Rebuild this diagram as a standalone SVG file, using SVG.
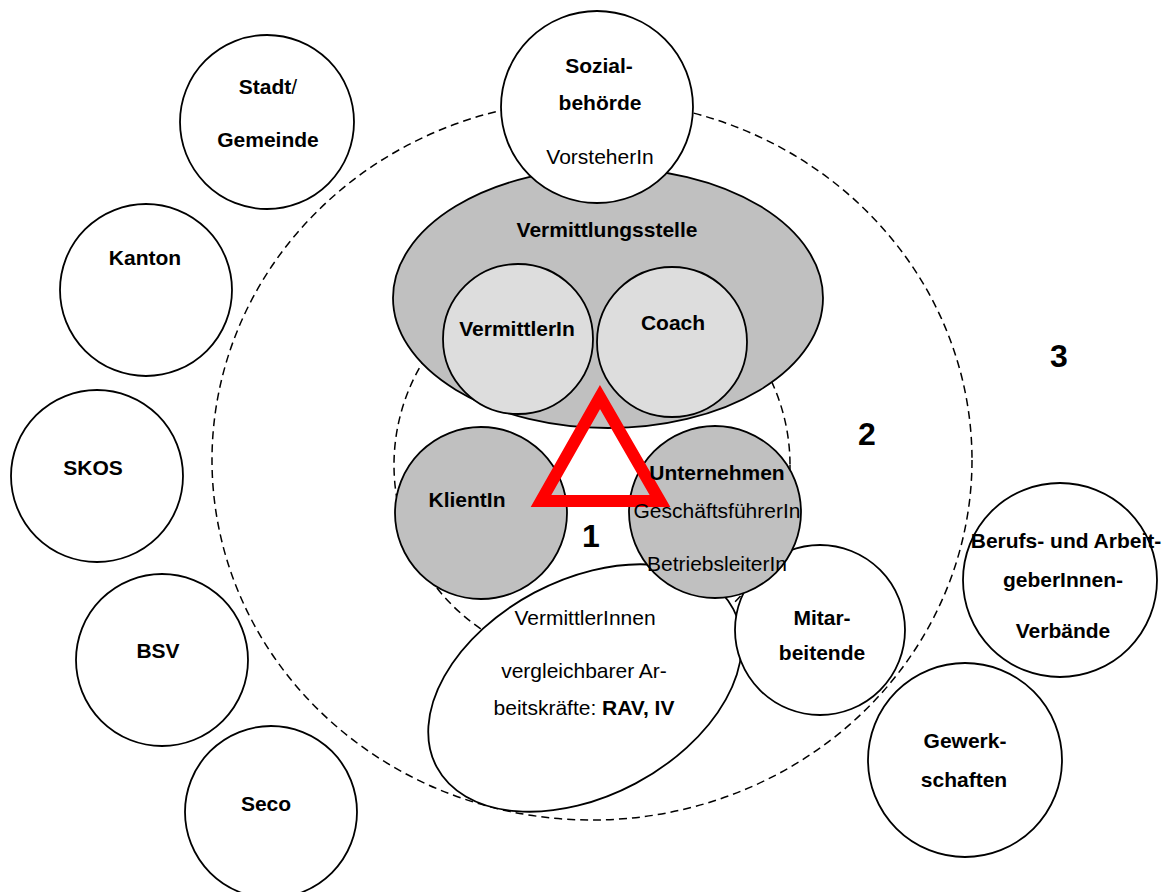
<svg xmlns="http://www.w3.org/2000/svg" width="1166" height="892" viewBox="0 0 1166 892">
<style>
  text { font-family: "Liberation Sans", Arial, sans-serif; font-size: 21px; fill: #000; text-anchor: middle; }
  .b { font-weight: bold; }
  .n { font-weight: normal; }
  .num { font-weight: bold; font-size: 32px; }
  .node { stroke: #000; stroke-width: 1.8; fill: #fff; }
  .grey { fill: #c0c0c0; }
  .light { fill: #dddddd; }
  .zone { fill: none; stroke: #000; stroke-width: 1.5; stroke-dasharray: 8 5; }
</style>
<rect width="1166" height="892" fill="#fff"/>
<g id="zones">
  <ellipse class="zone" cx="592" cy="460" rx="380" ry="360"/>
  <circle class="zone" cx="592" cy="465" r="198"/>
</g>
<g id="connectors"></g>
<g id="stadt"><circle class="node" cx="267" cy="122" r="87"/><text x="268" y="94"><tspan class="b">Stadt</tspan><tspan class="n">/</tspan></text><text class="b" x="268" y="147">Gemeinde</text></g>
<g id="kanton"><circle class="node" cx="146" cy="290" r="86"/><text class="b" x="145" y="265">Kanton</text></g>
<g id="skos"><circle class="node" cx="97" cy="476" r="86"/><text class="b" x="93" y="475">SKOS</text></g>
<g id="bsv"><circle class="node" cx="162" cy="660" r="86"/><text class="b" x="158" y="658">BSV</text></g>
<g id="seco"><circle class="node" cx="271" cy="812" r="86"/><text class="b" x="266" y="811">Seco</text></g>
<g id="verbaende"><circle class="node" cx="1060" cy="580" r="97"/><text class="b" x="1066" y="548">Berufs- und Arbeit-</text><text class="b" x="1063" y="587">geberInnen-</text><text class="b" x="1063" y="638">Verbände</text></g>
<g id="gewerkschaften"><circle class="node" cx="965" cy="760" r="97"/><text class="b" x="965" y="748">Gewerk-</text><text class="b" x="964" y="787">schaften</text></g>
<g id="vermittlungsstelle"><ellipse class="node grey" cx="608" cy="298" rx="215" ry="130"/><text class="b" x="607" y="237">Vermittlungsstelle</text></g>
<g id="sozialbehoerde"><circle class="node" cx="597" cy="107" r="96"/><text class="b" x="599" y="73">Sozial-</text><text class="b" x="600" y="110">behörde</text><text x="600" y="164">VorsteherIn</text></g>
<g id="vermittlerin"><circle class="node light" cx="518" cy="339" r="75"/><text class="b" x="517" y="336">VermittlerIn</text></g>
<g id="coach"><circle class="node light" cx="672" cy="342" r="75"/><text class="b" x="673" y="330">Coach</text></g>
<g id="rav-iv"><ellipse class="node" cx="585" cy="688" rx="168" ry="108" transform="rotate(-28 585 688)"/><text x="585" y="625">VermittlerInnen</text><text x="584" y="678">vergleichbarer Ar-</text><text x="584" y="715">beitskräfte: <tspan class="b">RAV, IV</tspan></text></g>
<g id="mitarbeitende"><circle class="node" cx="820" cy="630" r="85"/><text class="b" x="822" y="625">Mitar-</text><text class="b" x="822" y="660">beitende</text></g>
<g id="klientin"><circle class="node grey" cx="481" cy="513" r="86"/><text class="b" x="467" y="507">KlientIn</text></g>
<g id="unternehmen"><circle class="node grey" cx="715" cy="512" r="86"/></g>
<g id="triangle"><polygon points="600,397 541,501 660,501" fill="none" stroke="#ff0000" stroke-width="12" stroke-linejoin="miter" stroke-miterlimit="10"/></g>
<g id="unternehmen-labels"><text class="b" x="717" y="480">Unternehmen</text><text x="717" y="518">GeschäftsführerIn</text><text x="717" y="571">BetriebsleiterIn</text></g>
<g id="labels"><text class="num" x="591" y="547">1</text><text class="num" x="867" y="445">2</text><text class="num" x="1059" y="367">3</text></g>
</svg>
